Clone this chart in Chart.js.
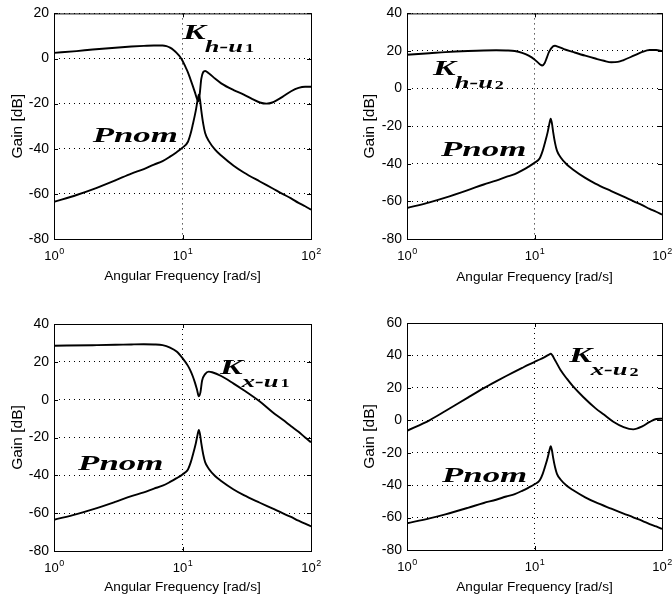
<!DOCTYPE html>
<html lang="en">
<head>
<meta charset="UTF-8">
<title>Gain [dB] vs Angular Frequency</title>
<script src="https://cdn.jsdelivr.net/npm/chart.js"></script>
<style>
  body { margin: 0; background: #fff; }
  .wrap { position: relative; width: 672px; height: 599px; overflow: hidden; background: #fff; }
  .panel { position: absolute; width: 336px; height: 300px; }
  .panel canvas { display: block; }
</style>
</head>
<body>
<div class="wrap">
  <div class="panel" style="left:0;top:0"><canvas id="c0" width="336" height="300"></canvas></div>
  <div class="panel" style="left:336px;top:0"><canvas id="c1" width="336" height="300"></canvas></div>
  <div class="panel" style="left:0;top:300px"><canvas id="c2" width="336" height="300"></canvas></div>
  <div class="panel" style="left:336px;top:300px"><canvas id="c3" width="336" height="300"></canvas></div>
</div>

<script>
// --- data (frequency in rad/s, gain in dB) ---
const xTicks = [1, 10, 100];
const yMin = [-80, -80, -80, -80];
const yMax = [20, 40, 40, 60];

// nominal plant, same curve in every panel
const freqP = [1, 1.5, 2, 3, 4, 5, 6, 7, 8, 9, 10, 11, 11.6, 12, 12.7, 13.1, 13.4, 13.7, 14, 14.5, 15, 16, 18, 20, 25, 30, 40, 50, 60, 70, 80, 90, 100];
const pnom  = [-63.5, -60.5, -58, -54, -51, -49, -47, -45.5, -43.5, -41.5, -39.5, -37, -33, -29.5, -23, -18.5, -16, -18.5, -23, -29, -33, -36.5, -40.5, -43, -47.5, -50.5, -54.5, -57.5, -60, -62, -64, -65.5, -67];

// controller K h-u1
const freqHu1 = [1, 1.5, 2, 3, 4, 5, 6, 7, 7.5, 8, 8.5, 9, 9.5, 10, 10.5, 11, 11.5, 12, 12.5, 13, 13.3, 13.6, 14, 14.5, 15, 16, 18, 20, 25, 30, 35, 40, 45, 50, 60, 70, 80, 90, 100];
const kHu1    = [2.5, 3.3, 4, 4.8, 5.3, 5.6, 5.8, 5.8, 5.5, 4.8, 3.8, 2.5, 1, -1, -3.5, -6, -9, -12, -15, -18, -19, -16, -9, -6, -5.5, -6.5, -9, -11, -14, -16, -18, -19.5, -20, -19.5, -17, -14.5, -13, -12.5, -12.5];

// controller K h-u2
const freqHu2 = [1, 1.5, 2, 3, 4, 5, 6, 7, 8, 9, 10, 11, 11.5, 12, 12.5, 13, 14, 14.5, 15, 17, 20, 25, 30, 35, 40, 45, 50, 60, 70, 80, 90, 100];
const kHu2    = [18, 18.8, 19.4, 20, 20.3, 20.4, 20.3, 20, 19, 17.5, 15.5, 13, 12.3, 13.5, 16.5, 19.5, 22.5, 22.8, 22.5, 21, 19.5, 17.5, 16, 14.8, 14, 14.2, 15.2, 17.5, 19.5, 20.5, 20.5, 20];

// controller K x-u1
const freqXu1 = [1, 2, 3, 4, 5, 6, 7, 8, 9, 10, 11, 11.5, 12, 12.5, 13, 13.4, 13.8, 14.2, 15, 16, 17, 20, 25, 30, 40, 50, 60, 70, 80, 90, 100];
const kXu1    = [28.5, 28.8, 29, 29.2, 29.3, 29.2, 28.8, 27.5, 25.5, 22, 18, 15.5, 12.5, 9, 5, 1.8, 4, 10, 13.5, 14.8, 14.5, 12.5, 8.5, 5, -1, -6.5, -10.5, -14, -17, -20, -22.5];

// controller K x-u2
const freqXu2 = [1, 1.5, 2, 3, 4, 5, 6, 7, 8, 9, 10, 11, 12, 13, 13.4, 14.5, 16, 18, 20, 24, 30, 35, 41.5, 50, 59.5, 70, 80, 90, 100];
const kXu2    = [-6.5, 0, 5.7, 14, 19.8, 24, 27.3, 30, 32.3, 34.3, 36, 37.5, 39, 40.5, 41, 37, 31, 25.5, 21, 14.5, 7.5, 3.5, -0.9, -4.2, -5.6, -3.8, -1, 0.8, 1];

// text labels, anchored in data units
const kSub = ['h-u', 'h-u', 'x-u', 'x-u'];
const kIdx = ['1', '2', '1', '2'];
const kPos = [{x: 10.1, y: 8.7}, {x: 1.6, y: 7.5}, {x: 19.6, y: 13.6}, {x: 18.7, y: 36}];
const pnomPos = [{x: 2.0, y: -37}, {x: 1.85, y: -36}, {x: 1.54, y: -37.2}, {x: 1.88, y: -38}];

const kCurves = [[freqHu1, kHu1], [freqHu2, kHu2], [freqXu1, kXu1], [freqXu2, kXu2]];

// plot-box geometry inside each 336x300 canvas
const boxes = [
  {l: 54, r: 311, t: 10, b: 239, yPad: 8,  xPad: 16},
  {l: 71, r: 326, t: 10, b: 239, yPad: 24, xPad: 15},
  {l: 54, r: 311, t: 24, b: 251, yPad: 8,  xPad: 5},
  {l: 71, r: 326, t: 23, b: 250, yPad: 24, xPad: 5}
];

const SANS = '"Liberation Sans", Arial, Helvetica, sans-serif';
const SERIF = '"Liberation Serif", "Times New Roman", serif';

function toPts(xs, ys) {
  return xs.map((x, i) => ({x: x, y: ys[i]}));
}

// draw text stretched horizontally, returns drawn width
function wideText(ctx, text, x, y, font, sx) {
  ctx.save();
  ctx.font = font;
  ctx.translate(x, y);
  ctx.scale(sx, 1);
  ctx.fillText(text, 0, 0);
  const w = ctx.measureText(text).width * sx;
  ctx.restore();
  return w;
}

const framePlugin = {
  id: 'frame',
  afterDraw(chart, args, opts) {
    const {ctx, chartArea: a, scales: {x, y}} = chart;
    ctx.save();
    ctx.strokeStyle = '#000';
    ctx.fillStyle = '#000';
    ctx.lineWidth = 1;
    ctx.strokeRect(a.left + 0.5, a.top + 0.5, a.right - a.left, a.bottom - a.top);

    // inward tick marks
    ctx.beginPath();
    y.ticks.forEach(t => {
      const py = Math.round(y.getPixelForValue(t.value)) + 0.5;
      ctx.moveTo(a.left, py); ctx.lineTo(a.left + 4, py);
      ctx.moveTo(a.right - 4, py); ctx.lineTo(a.right, py);
    });
    x.ticks.forEach(t => {
      const px = Math.round(x.getPixelForValue(t.value)) + 0.5;
      ctx.moveTo(px, a.bottom); ctx.lineTo(px, a.bottom - 4);
      ctx.moveTo(px, a.top); ctx.lineTo(px, a.top + 4);
    });
    ctx.stroke();

    // x tick labels as 10 with superscript exponent
    ctx.textBaseline = 'alphabetic';
    x.ticks.forEach(t => {
      const px = x.getPixelForValue(t.value);
      const exp = String(Math.round(Math.log10(t.value)));
      ctx.font = '13px ' + SANS;
      const wb = ctx.measureText('10').width;
      ctx.font = '9px ' + SANS;
      const we = ctx.measureText(exp).width;
      const x0 = px - (wb + we) / 2;
      ctx.font = '13px ' + SANS;
      ctx.fillText('10', x0, a.bottom + 21);
      ctx.font = '9px ' + SANS;
      ctx.fillText(exp, x0 + wb + 0.5, a.bottom + 15);
    });

    // curve labels
    const kx = x.getPixelForValue(opts.k.x);
    const ky = y.getPixelForValue(opts.k.y);
    const w = wideText(ctx, 'K', kx, ky, 'bold italic 20px ' + SERIF, 1.7);
    const w2 = wideText(ctx, opts.sub, kx + w - 1, ky + 13, 'bold italic 16px ' + SERIF, 1.65);
    wideText(ctx, opts.idx, kx + w + w2 + 1, ky + 13 + (opts.idx === '2' ? 1 : 0), 'bold 13px ' + SERIF, 1.4);

    const px = x.getPixelForValue(opts.p.x);
    const py = y.getPixelForValue(opts.p.y);
    wideText(ctx, 'Pnom', px, py, 'bold italic 21px ' + SERIF, 1.66);
    ctx.restore();
  }
};

boxes.forEach((bx, i) => {
  const ctx = document.getElementById('c' + i).getContext('2d');
  new Chart(ctx, {
    type: 'line',
    data: {
      datasets: [
        {
          label: 'Pnom',
          data: toPts(freqP, pnom),
          borderColor: '#000',
          borderWidth: 1.9,
          pointRadius: 0,
          cubicInterpolationMode: 'monotone'
        },
        {
          label: 'K',
          data: toPts(kCurves[i][0], kCurves[i][1]),
          borderColor: '#000',
          borderWidth: 1.9,
          pointRadius: 0,
          cubicInterpolationMode: 'monotone'
        }
      ]
    },
    options: {
      responsive: false,
      animation: false,
      events: [],
      layout: {
        padding: {left: 0, right: 336 - bx.r, top: bx.t, bottom: 0}
      },
      plugins: {
        legend: {display: false},
        tooltip: {enabled: false},
        frame: {k: kPos[i], sub: kSub[i], idx: kIdx[i], p: pnomPos[i]}
      },
      scales: {
        x: {
          type: 'logarithmic',
          min: 1,
          max: 100,
          afterBuildTicks: s => { s.ticks = xTicks.map(v => ({value: v})); },
          afterFit: s => { s.height = 300 - bx.b; },
          ticks: {display: false},
          grid: {color: '#000', lineWidth: 1, drawTicks: false},
          border: {display: false, dash: [1, 4]},
          title: {
            display: true,
            text: 'Angular Frequency [rad/s]',
            color: '#000',
            font: {family: SANS, size: 13.6},
            padding: {top: 0, bottom: bx.xPad}
          }
        },
        y: {
          min: yMin[i],
          max: yMax[i],
          afterFit: s => { s.width = bx.l; },
          ticks: {stepSize: 20, color: '#000', padding: 5, font: {family: SANS, size: 14}},
          grid: {color: '#000', lineWidth: 1, drawTicks: false},
          border: {display: false, dash: [1, 4]},
          title: {
            display: true,
            text: 'Gain [dB]',
            color: '#000',
            font: {family: SANS, size: 15.5},
            padding: {top: bx.yPad, bottom: 0}
          }
        }
      }
    },
    plugins: [framePlugin]
  });
});
</script>
</body>
</html>
